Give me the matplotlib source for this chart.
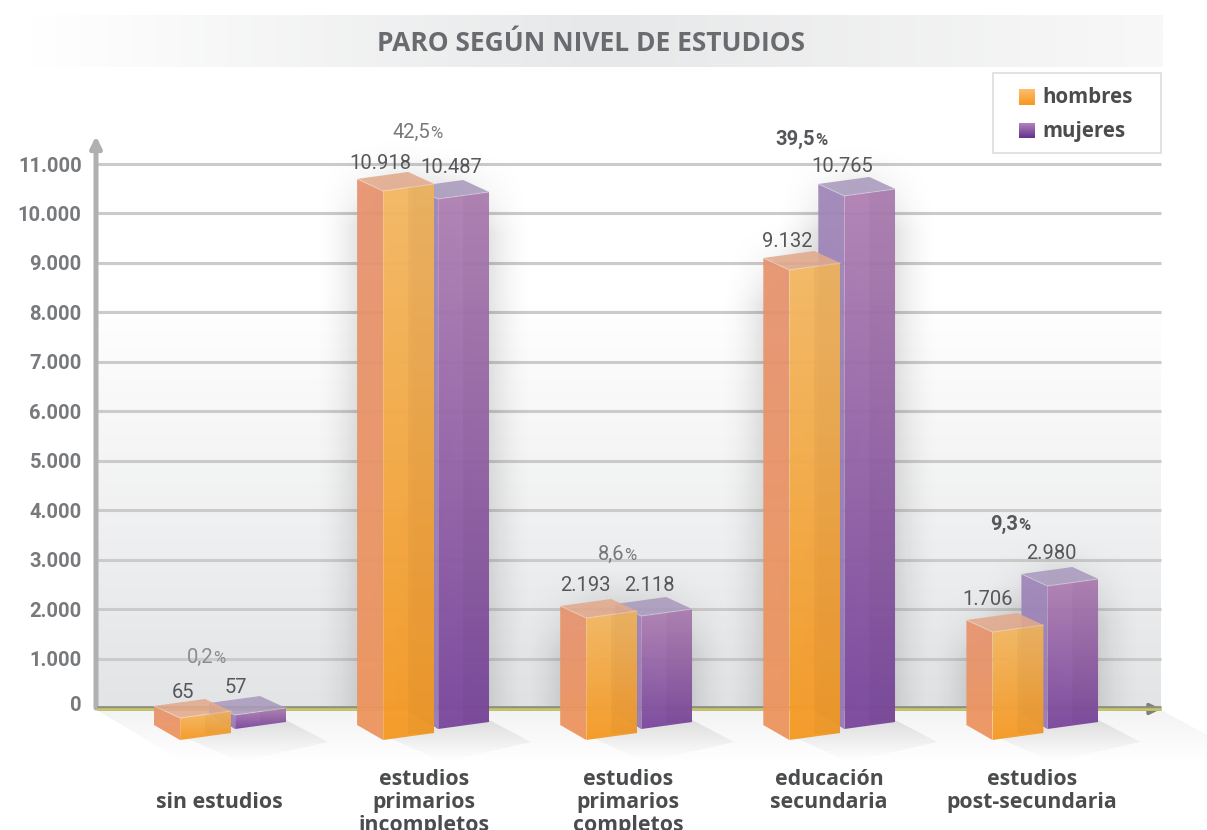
import numpy as np
import matplotlib
matplotlib.use("Agg")
import matplotlib.pyplot as plt
from matplotlib.patches import Polygon, Rectangle
from matplotlib.transforms import ScaledTranslation

# ==== DATA ====
CATEGORIAS = [["sin estudios"], ["estudios", "primarios", "incompletos"], ["estudios", "primarios", "completos"],
              ["educación", "secundaria"], ["estudios", "post-secundaria"]]
HOMBRES = [65, 10918, 2193, 9132, 1706]
MUJERES = [57, 10487, 2118, 10765, 2980]
# height of the front corner of each box as read on the wall scale (the 3D drawing is not exact)
ALTURA_H = [-202, 10455, 1820, 8857, 1537]
ALTURA_M = [-142, 10293, 1860, 10354, 2467]
PORCENTAJES = ["0,2", "42,5", "8,6", "39,5", "9,3"]
Y_TICKS = list(range(0, 12000, 1000))
Y_LABELS = [f"{v:,}".replace(",", ".") for v in Y_TICKS]
TITULO = "PARO SEGÚN NIVEL DE ESTUDIOS"

# ==== LAYOUT (pixels of the 1207x830 picture) ====
W, H = 1207, 830
X0, X1, Y0_PX, Y11_PX = 97, 1161, 708, 164
VAL_PX = 11000 / (Y0_PX - Y11_PX)
PRIMER_X, PASO_X = 154, 203.1
ANCHO, DX, DY, INC = 51, 26, 12, 7
OFFSET_M = 55
LABEL_H_XY = [(183, 692), (380, 163), (585, 585), (787, 241), (988, 599)]
LABEL_M_XY = [(236, 687), (451, 167), (649, 585), (842, 166), (1051, 553)]
PCT_X = [200, 417, 611, 802, 1005]
PCT_Y = [657, 132, 554, 139, 524]
PCT_COLOR = ["#8a8c8f", "#77797c", "#77797c", "#55575a", "#55575a"]
CAT_X = [219, 424, 628, 829, 1032]

NUM_FONT = ["Roboto", "DejaVu Sans"]
TXT_FONT = ["Open Sans", "DejaVu Sans"]


def v(py):
    return (Y0_PX - py) * VAL_PX


fig = plt.figure(figsize=(W / 100, H / 100), dpi=100)
ax = fig.add_axes([X0 / W, 1 - Y0_PX / H, (X1 - X0) / W, (Y0_PX - Y11_PX) / H])
ax.patch.set_alpha(0)
ax.set_xlim(X0, X1)
ax.set_ylim(0, 11000)
for s in ax.spines.values():
    s.set_visible(False)


def show(img, x0, x1, y0, y1, z):
    im = ax.imshow(img, extent=(x0, x1, v(y1), v(y0)), origin="upper", aspect="auto", zorder=z,
                   interpolation="bilinear")
    im.set_clip_box(fig.bbox)
    return im


def grad(pts, c0, c1, z, horizontal=False, n=64):
    """Fill a polygon (pixel x, pixel y) with a gradient, c0 top/left to c1 bottom/right, RGBA 0-255."""
    xs, ys = zip(*pts)
    t = np.linspace(0, 1, n)[:, None]
    col = (np.array(c0) * (1 - t) + np.array(c1) * t) / 255
    img = col[None, :, :] if horizontal else col[:, None, :]
    im = show(img, min(xs), max(xs), min(ys), max(ys), z)
    im.set_clip_path(Polygon([(x, v(y)) for x, y in pts], closed=True, transform=ax.transData))


def rect(x0, y0, x1, y1):
    return [(x0, y0), (x1, y0), (x1, y1), (x0, y1)]


def halo(left, right, top, bottom, sigma=16, alpha=0.11):
    # soft dark glow behind a box, fading at every side but the floor
    m = 3 * sigma
    xs = np.arange(left - m, right + m)
    ys = np.arange(top - m, bottom)
    fx = np.clip((xs - left + m) / (2 * m), 0, 1) * np.clip((right + m - xs) / (2 * m), 0, 1)
    fy = np.clip((ys - top + m) / (2 * m), 0, 1)
    a = np.outer(fy ** 2, fx ** 2) * 4 * alpha
    a = np.clip(a, 0, alpha)
    img = np.zeros(a.shape + (4,))
    img[..., 3] = a
    show(img, left - m, right + m, top - m, bottom, 1.2)


# ==== BACKGROUND ====
grad(rect(28, 15, 600, 67), (255, 255, 255, 255), (231, 232, 233, 255), 0, horizontal=True)
grad(rect(600, 15, 1163, 67), (231, 232, 233, 255), (248, 248, 248, 255), 0, horizontal=True)
grad(rect(X0, 300, X1, Y0_PX), (255, 255, 255, 255), (227, 228, 230, 255), 0)
grad([(X0, 710), (X1, 710), (1207, 735), (1207, 760), (180, 760)],
     (243, 243, 244, 255), (255, 255, 255, 255), 0)

ax.text(591, v(43), TITULO, family=TXT_FONT, fontsize=19, fontweight="bold", color="#696b6e",
        ha="center", va="center", zorder=8, clip_on=False)

# ==== AXES ====
ax.set_xticks([])
ax.set_yticks(Y_TICKS[1:] + [0])
ax.set_yticklabels(Y_LABELS[1:] + ["0"], family=NUM_FONT, fontsize=14.5, fontweight="bold", color="#77797c")
ax.tick_params(axis="y", length=0, pad=11)
for lab in ax.get_yticklabels():
    if lab.get_text() == "0":
        lab.set_transform(lab.get_transform() + ScaledTranslation(0, 3 / 72, fig.dpi_scale_trans))
for t in Y_TICKS[1:]:
    ax.axhline(t, color="#cbcbcb", lw=2.2, zorder=1, clip_on=False, solid_capstyle="butt")
ax.annotate("", xy=(X0 - 1, v(136)), xytext=(X0 - 1, v(708)), zorder=2, annotation_clip=False,
            arrowprops=dict(arrowstyle="-|>,head_width=0.32,head_length=0.65", color="#b0b0b0", lw=3.6,
                            shrinkA=0, shrinkB=0))
ax.annotate("", xy=(1161, v(709)), xytext=(1120, v(709)), zorder=2, annotation_clip=False,
            arrowprops=dict(arrowstyle="-|>,head_width=0.32,head_length=0.65", color="#808078", lw=2.5,
                            shrinkA=0, shrinkB=0))
ax.plot([X0, X1], [v(708), v(708)], color="#8f8f80", lw=3.4, zorder=2, clip_on=False, solid_capstyle="butt")
ax.plot([X0, X1], [v(709), v(709)], color="#c9c96a", lw=1.8, zorder=2, clip_on=False, solid_capstyle="butt")


# ==== BARS ====
def caja(left, altura, base_front, zb, cols):
    front = left + DX
    right = front + ANCHO
    top_f = Y0_PX - altura / VAL_PX
    pts_left = [(left, top_f - DY), (front, top_f), (front, base_front), (left, base_front - DY - 3)]
    pts_front = [(front, top_f), (right, top_f - INC), (right, base_front - INC), (front, base_front)]
    pts_top = [(left, top_f - DY), (front, top_f), (right, top_f - INC), (right - DX, top_f - INC - DY)]
    grad(pts_left, cols["left"][0], cols["left"][1], zb)
    grad(pts_front, cols["front"][0], cols["front"][1], zb + 0.1)
    grad(pts_top, cols["top"], cols["top"], zb + 0.2)
    # back edge seen through the box
    inner = [(right - DX, top_f - INC + 1), (right, top_f - INC), (right, base_front - INC),
             (right - DX, base_front - 6)]
    ax.add_patch(Polygon([(x, v(y)) for x, y in inner], closed=True, facecolor="#000000", alpha=0.03,
                         edgecolor="none", zorder=zb + 0.15, clip_on=False))
    ax.plot([left, front, right], [v(top_f - DY), v(top_f), v(top_f - INC)], color="white", alpha=0.3, lw=0.8,
            zorder=zb + 0.3, clip_on=False)
    ax.plot([front, front], [v(top_f), v(base_front)], color="white", alpha=0.15, lw=0.7,
            zorder=zb + 0.3, clip_on=False)


COL_H = dict(front=((245, 185, 100, 245), (244, 155, 40, 250)),
             left=((231, 148, 112, 240), (238, 150, 95, 245)),
             top=(226, 170, 140, 225))
COL_M = dict(front=((176, 128, 180, 240), (124, 74, 158, 250)),
             left=((160, 135, 185, 240), (150, 122, 182, 245)),
             top=(170, 155, 190, 225))

for i in range(len(HOMBRES)):
    left_h = PRIMER_X + PASO_X * i
    left_m = left_h + OFFSET_M
    right_m = left_m + DX + ANCHO
    top_h = Y0_PX - ALTURA_H[i] / VAL_PX
    top_m = Y0_PX - ALTURA_M[i] / VAL_PX
    if i > 0:
        halo(left_h, left_h + DX + ANCHO, top_h - DY, 708)
        halo(left_m, right_m, top_m - DY, 708)
    grad([(left_h + DX, 735), (right_m, 720), (right_m + 42, 742), (left_h + DX + 60, 762)],
         (0, 0, 0, 24), (0, 0, 0, 0), 1.3)

for i, (h, m) in enumerate(zip(HOMBRES, MUJERES)):
    left_h = PRIMER_X + PASO_X * i
    left_m = left_h + OFFSET_M
    caja(left_m, ALTURA_M[i], 729, 3 + i, COL_M)
    caja(left_h, ALTURA_H[i], 740, 3.5 + i, COL_H)

    ax.text(LABEL_H_XY[i][0], v(LABEL_H_XY[i][1]), f"{h:,}".replace(",", "."), family=NUM_FONT, fontsize=14.5,
            color="#55575a", ha="center", va="center", zorder=9, clip_on=False)
    ax.text(LABEL_M_XY[i][0], v(LABEL_M_XY[i][1]), f"{m:,}".replace(",", "."), family=NUM_FONT, fontsize=14.5,
            color="#55575a", ha="center", va="center", zorder=9, clip_on=False)

    # percentage: number plus a smaller % sign
    peso = "bold" if i in (3, 4) else "normal"
    ax.text(PCT_X[i] + 13, v(PCT_Y[i]), PORCENTAJES[i], family=NUM_FONT, fontsize=14.5, color=PCT_COLOR[i],
            ha="right", va="center", zorder=9, clip_on=False, fontweight=peso)
    ax.text(PCT_X[i] + 13, v(PCT_Y[i] + 1), "%", family=NUM_FONT, fontsize=12, color=PCT_COLOR[i],
            ha="left", va="center", zorder=9, clip_on=False, fontweight=peso)

    # category labels, the long ones run off the bottom as in the source
    lineas = CATEGORIAS[i]
    y_ini = 802 if len(lineas) == 1 else 779
    for j, linea in enumerate(lineas):
        ax.text(CAT_X[i], v(y_ini + 23 * j), linea, family=TXT_FONT, fontsize=15.3, fontweight="bold",
                color="#4b4c4e", ha="center", va="center", zorder=9, clip_on=False)

# ==== LEGEND ====
ax.add_patch(Rectangle((993, v(153)), 168, v(73) - v(153), facecolor="white", edgecolor="#e2e2e2", lw=1.4,
                       zorder=10, clip_on=False))
grad(rect(1019, 89, 1035, 105), (253, 190, 110, 255), (250, 150, 30, 255), 11)
grad(rect(1019, 123, 1035, 138), (178, 130, 190, 255), (100, 50, 140, 255), 11)
ax.text(1042, v(97), "hombres", family=TXT_FONT, fontsize=14.8, fontweight="bold", color="#4b4c4e", va="center",
        zorder=12, clip_on=False)
ax.text(1042, v(131), "mujeres", family=TXT_FONT, fontsize=14.8, fontweight="bold", color="#4b4c4e", va="center",
        zorder=12, clip_on=False)

ax.set_xlim(X0, X1)
ax.set_ylim(0, 11000)
fig.savefig("out.png", dpi=100)
